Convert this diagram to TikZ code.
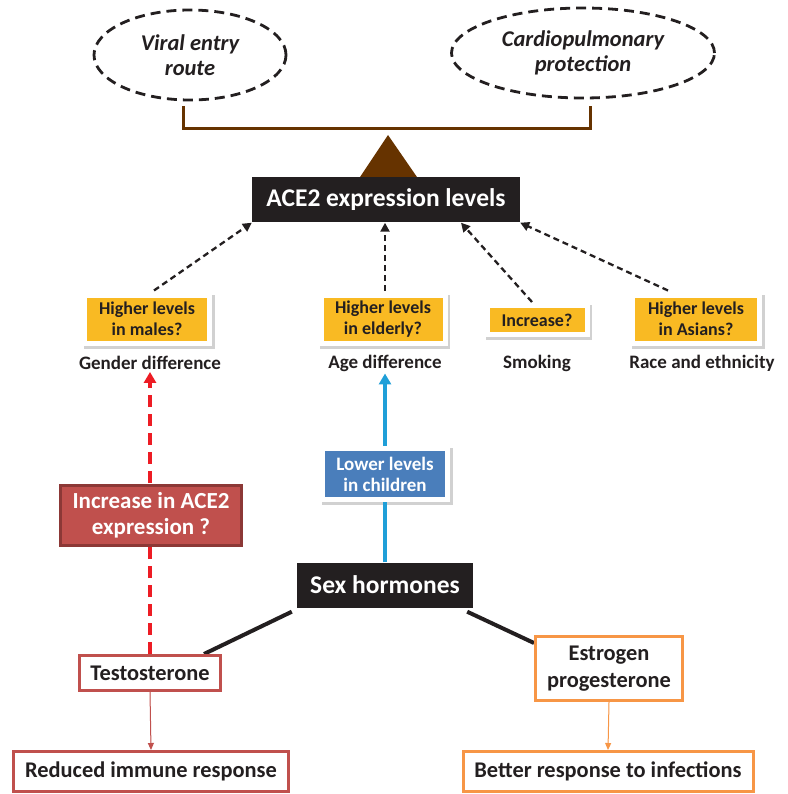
\documentclass[tikz,border=0pt]{standalone}
\usepackage{fontspec}
\setmainfont{Carlito}
\usetikzlibrary{arrows.meta,shapes.geometric,calc}
\definecolor{dark}{HTML}{231F20}
\definecolor{brn}{HTML}{663300}
\definecolor{yel}{HTML}{F9BA23}
\definecolor{redfill}{HTML}{C0504D}
\definecolor{redborder}{HTML}{8C3836}
\definecolor{reddash}{HTML}{ED1C24}
\definecolor{bluearr}{HTML}{1F9FD8}
\definecolor{bluefill}{HTML}{4A7EBB}
\definecolor{orng}{HTML}{F79646}
\pgfdeclarelayer{bg}
\pgfsetlayers{bg,main}
\begin{document}
\begin{tikzpicture}[x=1pt,y=-1pt,
  every node/.style={font=\bfseries, align=center, inner sep=0pt},
  ell/.style={ellipse, draw=dark, line width=2.8pt, dash pattern=on 10pt off 6pt,
    font=\bfseries\itshape\fontsize{22.5}{25}\selectfont, text=dark},
  blk/.style={fill=dark, text=white, font=\bfseries\fontsize{25.5}{30}\selectfont},
  shadowbox/.style={draw=white, line width=5pt},
  shade/.style={fill=black!18},
  ybox/.style={shadowbox, fill=yel, text=dark, font=\bfseries\fontsize{18}{21}\selectfont},
  bbox/.style={shadowbox, fill=bluefill, text=white, font=\bfseries\fontsize{19}{21}\selectfont},
  lbl/.style={text=dark, font=\bfseries\fontsize{19}{22}\selectfont},
  obox/.style={fill=white, line width=3pt, text=dark, font=\bfseries\fontsize{22.4}{27}\selectfont},
  dasharr/.style={draw=dark, line width=2.3pt, dash pattern=on 6pt off 4pt,
    -{Triangle[length=9pt,width=9pt]}},
  thinarr/.style={line width=1pt, -{Triangle[length=7pt,width=6pt]}},
  hline/.style={draw=dark, line width=4pt}
]
\useasboundingbox (0,0) rectangle (787,794);

% top ellipses and balance
\node[ell, minimum width=192pt, minimum height=90pt] (viral) at (190,55) {Viral entry\\route};
\node[ell, minimum width=263pt, minimum height=90pt] (cardio) at (583,53) {Cardiopulmonary\\protection};
\draw[brn, line width=3pt] (183,106) -- (183,129) -- (590,129) -- (590,106);
\fill[brn] (388,135) -- (359,178.5) -- (418,178.5) -- cycle;

\node[blk, minimum width=268pt, minimum height=45pt] (ace) at (386,200) {ACE2 expression levels};

% yellow boxes
\node[ybox, minimum width=125pt, minimum height=48pt] (males) at (147,319) {Higher levels\\in males?};
\node[ybox, minimum width=124pt, minimum height=48pt] (elderly) at (383,319) {Higher levels\\in elderly?};
\node[ybox, minimum width=100pt, minimum height=29pt] (incr) at (537,320) {Increase?};
\node[ybox, minimum width=127pt, minimum height=48pt] (asians) at (696,319) {Higher levels\\in Asians?};

\node[lbl] (gender) at (150,363) {Gender difference};
\node[lbl] (age) at (385,363) {Age difference};
\node[lbl] (smoking) at (537,363) {Smoking};
\node[lbl] (race) at (702,363) {Race and ethnicity};

% middle
\node[fill=redfill, draw=redborder, line width=3pt, text=white,
  font=\bfseries\fontsize{23}{26}\selectfont,
  minimum width=181pt, minimum height=60pt] (incace) at (151,515) {Increase in ACE2\\expression ?};
\node[bbox, minimum width=125pt, minimum height=51pt] (lower) at (385,474) {Lower levels\\in children};
\node[blk, minimum width=176pt, minimum height=45pt] (sex) at (385,585) {Sex hormones};

% bottom boxes
\node[obox, draw=redfill, minimum width=141pt, minimum height=35pt] (testo) at (150,673) {Testosterone};
\node[obox, draw=orng, minimum width=147pt, minimum height=64pt] (estro) at (609,668.5) {Estrogen\\progesterone};
\node[obox, draw=redfill, minimum width=275pt, minimum height=40pt] (reduced) at (151,771.5) {Reduced immune response};
\node[obox, draw=orng, minimum width=290pt, minimum height=40pt] (better) at (608,771.5) {Better response to infections};

\begin{pgfonlayer}{bg}
  \foreach \n in {males,elderly,incr,asians,lower}
    \fill[shade] ($(\n.north west)+(1.5,2)$) rectangle ($(\n.south east)+(2.5,3)$);
  \draw[dasharr] ($(males.north)+(7,-2)$) -- (ace.south west);
  \draw[dasharr] ($(elderly.north)+(2,-2)$) -- (ace.south -| {$(elderly.north)+(2,0)$});
  \draw[dasharr] ($(incr.north)+(-5,-1)$) -- ($(ace.south)+(75,0)$);
  \draw[dasharr] ($(asians.north)+(-28,-2)$) -- (ace.south east);
  \draw[reddash, line width=4pt, dash pattern=on 12pt off 7pt,
    -{Triangle[length=11pt,width=12pt]}] (testo.north) -- ($(gender.south -| testo.north)+(0,2)$);
  \draw[bluearr, line width=4pt, -{Triangle[length=11pt,width=12pt]}]
    (sex.north) -- ($(age.south -| sex.north)+(0,2)$);
  \draw[hline] ($(sex.south west)+(-5,4)$) -- ($(testo.north east)+(-18,0)$);
  \draw[hline] ($(sex.south east)+(-6,4)$) -- ($(estro.north west)+(0,8)$);
  \draw[thinarr, draw=redfill, fill=redfill] (testo.south) -- (reduced.north);
  \draw[thinarr, draw=orng, fill=orng] (estro.south) -- (better.north);
\end{pgfonlayer}
\end{tikzpicture}
\end{document}
